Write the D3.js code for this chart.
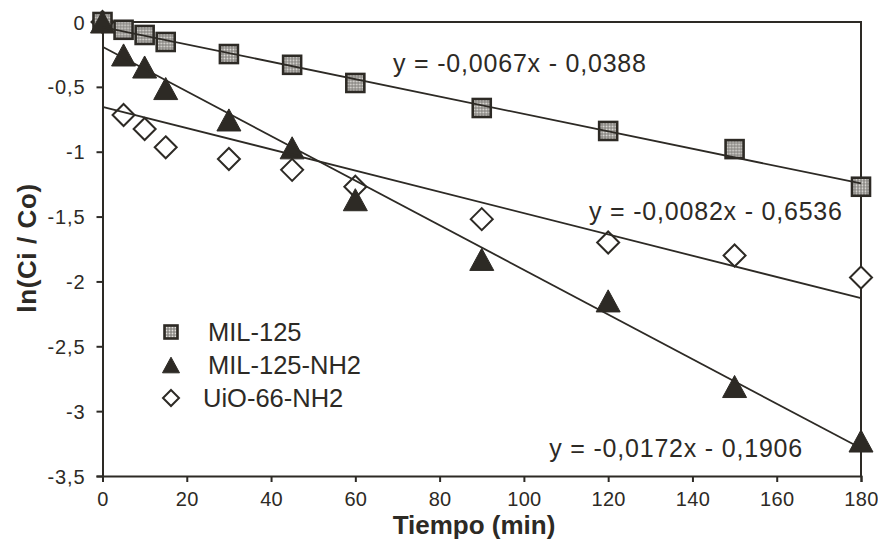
<!DOCTYPE html>
<html>
<head>
<meta charset="utf-8">
<script src="https://cdn.jsdelivr.net/npm/d3@7"></script>
<style>
  body { margin: 0; background: #fff; }
  text { font-family: "Liberation Sans", Arial, sans-serif; fill: #2d2a25; }
</style>
</head>
<body>
<div id="chart"></div>
<script>
// data
const tiempo = [0, 5, 10, 15, 30, 45, 60, 90, 120, 150, 180];
const mil125 = [0, -0.06, -0.10, -0.154, -0.247, -0.33, -0.47, -0.663, -0.84, -0.98, -1.27];
const mil125nh2 = [0, -0.254, -0.347, -0.513, -0.755, -0.97, -1.37, -1.83, -2.15, -2.81, -3.23];
const uio66nh2 = [0, -0.717, -0.825, -0.966, -1.056, -1.14, -1.27, -1.52, -1.70, -1.80, -1.97];
const seriesNames = ["MIL-125", "MIL-125-NH2", "UiO-66-NH2"];
const slopes = [-0.0067, -0.0172, -0.0082];
const intercepts = [-0.0388, -0.1906, -0.6536];
const eqLabels = ["y = -0,0067x - 0,0388", "y = -0,0172x - 0,1906", "y = -0,0082x - 0,6536"];
const xTicks = [0, 20, 40, 60, 80, 100, 120, 140, 160, 180];
const yTicks = [0, -0.5, -1, -1.5, -2, -2.5, -3, -3.5];

let config_size = {
    svg_width: 878,
    svg_height: 540,
    plot_margin: { left: 102.5, right: 17, top: 22, bottom: 64 },
};
const ink = "#2d2a25";

let svg = d3.select("#chart").append("svg")
    .attr("width", config_size.svg_width).attr("height", config_size.svg_height);

// dotted grey fill for the squares
let defs = svg.append("defs");
let pat = defs.append("pattern").attr("id", "dots")
    .attr("width", 3).attr("height", 3).attr("patternUnits", "userSpaceOnUse");
pat.append("rect").attr("width", 3).attr("height", 3).attr("fill", "#8c8a86");
pat.append("circle").attr("cx", 1.5).attr("cy", 1.5).attr("r", 0.9).attr("fill", "#e4e2de");

let plot_width = config_size.svg_width - config_size.plot_margin.left - config_size.plot_margin.right;
let plot_height = config_size.svg_height - config_size.plot_margin.top - config_size.plot_margin.bottom;
let plot_g = svg.append("g")
    .attr("transform", `translate(${config_size.plot_margin.left},${config_size.plot_margin.top})`);

let x = d3.scaleLinear().domain([0, 180]).range([0, plot_width]);
let y = d3.scaleLinear().domain([-3.5, 0]).range([plot_height, 0]);

// frame (top and right)
plot_g.append("path")
    .attr("d", `M0,0H${plot_width}V${plot_height}`)
    .attr("fill", "none").attr("stroke", ink).attr("stroke-width", 2);

let xAxis = plot_g.append("g")
    .attr("transform", `translate(0,${plot_height})`)
    .call(d3.axisBottom(x).tickValues(xTicks).tickSize(6).tickPadding(5).tickFormat(d3.format("d")));
let yAxis = plot_g.append("g")
    .call(d3.axisLeft(y).tickValues(yTicks).tickSize(6).tickPadding(11)
        .tickFormat(d => d === 0 ? "0" : String(d).replace(".", ",")));
[xAxis, yAxis].forEach(a => {
    a.select(".domain").attr("stroke", ink).attr("stroke-width", 2);
    a.selectAll(".tick line").attr("stroke", ink).attr("stroke-width", 2);
    a.selectAll("text").attr("fill", ink).style("font-size", "20px")
        .style("font-family", "Liberation Sans, Arial, sans-serif");
});
xAxis.selectAll("text").attr("dy", "0.95em").style("letter-spacing", "0.3px");
yAxis.selectAll("text").attr("dy", "0.35em").style("letter-spacing", "0.9px");

// markers
function drawSquare(g, size) {
    g.append("rect").attr("x", -size / 2).attr("y", -size / 2).attr("width", size).attr("height", size)
        .attr("fill", "url(#dots)").attr("stroke", ink).attr("stroke-width", 2.6);
}
function drawTri(g, w) {
    let h = w * 0.92;
    g.append("path").attr("d", `M0,${-h / 2}L${w / 2},${h / 2}L${-w / 2},${h / 2}Z`)
        .attr("fill", ink).attr("stroke", ink).attr("stroke-width", 1).attr("stroke-linejoin", "round");
}
function drawDiamond(g, r) {
    g.append("path").attr("d", `M0,${-r}L${r},0L0,${r}L${-r},0Z`)
        .attr("fill", "#fff").attr("stroke", ink).attr("stroke-width", 2);
}
const drawers = [g => drawSquare(g, 18), g => drawTri(g, 24), g => drawDiamond(g, 11)];
const legendDrawers = [g => drawSquare(g, 13), g => drawTri(g, 17), g => drawDiamond(g, 8)];

// diamonds underneath, then squares, triangles on top
const allSeries = [mil125, mil125nh2, uio66nh2];
[2, 0, 1].forEach(i => {
    let vals = allSeries[i];
    let pts = plot_g.append("g").selectAll("g").data(tiempo.map((t, k) => ({ t, v: vals[k] })))
        .join("g").attr("transform", d => `translate(${x(d.t)},${y(d.v)})`);
    pts.each(function () { drawers[i](d3.select(this)); });
});

// trend lines
slopes.forEach((m, i) => {
    plot_g.append("line")
        .attr("x1", x(0)).attr("y1", y(intercepts[i]))
        .attr("x2", x(180)).attr("y2", y(m * 180 + intercepts[i]))
        .attr("stroke", ink).attr("stroke-width", 1.8);
});

// equations
const eqPos = [[393, 72, "start"], [803, 457, "end"], [589, 220, "start"]];
eqLabels.forEach((t, i) => {
    svg.append("text").attr("x", eqPos[i][0]).attr("y", eqPos[i][1])
        .attr("text-anchor", eqPos[i][2]).style("font-size", "25px")
        .style("letter-spacing", "0.8px").text(t);
});

// legend
const legY = [332, 365, 398];
const legTx = [208, 208, 203];
seriesNames.forEach((n, i) => {
    let g = svg.append("g").attr("transform", `translate(171,${legY[i]})`);
    legendDrawers[i](g);
    svg.append("text").attr("x", legTx[i]).attr("y", legY[i] + 8.5)
        .style("font-size", "25.5px").text(n);
});

// axis titles
svg.append("text").attr("x", 474).attr("y", 534).attr("text-anchor", "middle")
    .style("font-size", "26px").style("font-weight", "bold").text("Tiempo (min)");
svg.append("text").attr("transform", "translate(36,248) rotate(-90)").attr("text-anchor", "middle")
    .style("font-size", "26px").style("font-weight", "bold").style("letter-spacing", "0.6px").text("ln(Ci / Co)");
</script>
</body>
</html>
